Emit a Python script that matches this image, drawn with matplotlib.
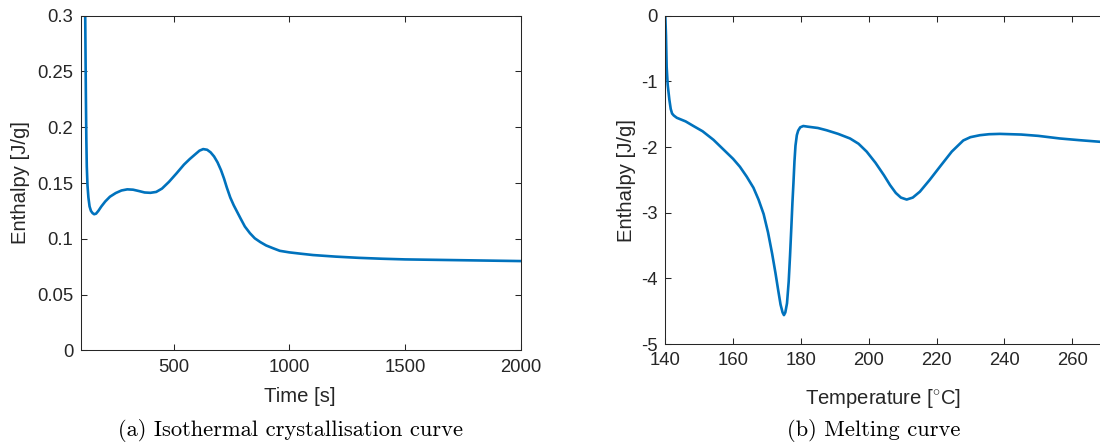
import matplotlib
matplotlib.use("Agg")
import matplotlib.pyplot as plt

# (a) isothermal crystallisation: time [s] vs enthalpy [J/g]
time_s = [113, 117, 119, 121, 123, 125, 128, 132, 137, 143, 150, 157, 165, 175,
          188, 205, 225, 250, 275, 300, 325, 350, 375, 400, 425, 450, 480, 513,
          545, 570, 595, 612, 628, 645, 660, 675, 690, 705, 718, 730, 745, 760,
          775, 790, 808, 830, 851, 875, 900, 930, 959, 1000, 1050, 1103, 1200,
          1300, 1400, 1500, 1600, 1700, 1800, 1900, 2000]
enthalpy_iso = [0.42, 0.33, 0.28, 0.23, 0.19, 0.165, 0.148, 0.137, 0.129, 0.125,
                0.123, 0.122, 0.1225, 0.125, 0.129, 0.1335, 0.1377, 0.141,
                0.1433, 0.1443, 0.1440, 0.1428, 0.1415, 0.1412, 0.1420, 0.1450,
                0.151, 0.1587, 0.1665, 0.1715, 0.176, 0.1790, 0.1804, 0.1798,
                0.1775, 0.1738, 0.1685, 0.1615, 0.1540, 0.1460, 0.1370, 0.1300,
                0.1240, 0.1180, 0.1110, 0.1050, 0.1004, 0.0970, 0.0940, 0.0915,
                0.0892, 0.0878, 0.0866, 0.0854, 0.0840, 0.0829, 0.0821, 0.0815,
                0.0812, 0.0809, 0.0806, 0.0803, 0.0800]

# (b) melting: temperature [deg C] vs enthalpy [J/g]
temp_c = [140.0, 140.2, 140.4, 140.7, 141.2, 141.6, 142.0, 142.5, 143.4, 146,
          148.3, 151, 154.2, 157, 160, 162, 164, 166, 167.5, 169, 170.3, 171.5,
          172.5, 173.3, 174.0, 174.6, 175.0, 175.4, 175.9, 176.4, 176.8, 177.2,
          177.5, 177.8, 178.1, 178.4, 178.8, 179.2, 179.8, 180.7, 182, 185,
          187.6, 191, 194.5, 197, 199.4, 202, 204.5, 206.3, 208, 209.5, 211.2,
          213, 215.1, 218, 221, 224.5, 227.9, 230, 232.8, 235.5, 238.7, 245,
          250, 256.4, 262, 268.2, 270]
enthalpy_melt = [0.0, -0.30, -0.78, -1.05, -1.28, -1.42, -1.49, -1.52, -1.555,
                 -1.61, -1.68, -1.76, -1.89, -2.03, -2.18, -2.30, -2.45, -2.62,
                 -2.80, -3.02, -3.30, -3.62, -3.92, -4.18, -4.40, -4.52, -4.56,
                 -4.52, -4.38, -4.05, -3.65, -3.20, -2.85, -2.55, -2.22, -1.98,
                 -1.82, -1.75, -1.70, -1.68, -1.69, -1.71, -1.745, -1.80, -1.87,
                 -1.95, -2.07, -2.24, -2.43, -2.58, -2.70, -2.77, -2.80, -2.77,
                 -2.68, -2.50, -2.30, -2.07, -1.90, -1.85, -1.82, -1.805, -1.80,
                 -1.81, -1.83, -1.87, -1.895, -1.92, -1.93]

iso_xticks = [500, 1000, 1500, 2000]
iso_yticks = [0, 0.05, 0.1, 0.15, 0.2, 0.25, 0.3]
iso_yticklabels = ["0", "0.05", "0.1", "0.15", "0.2", "0.25", "0.3"]
melt_xticks = [140, 160, 180, 200, 220, 240, 260]
melt_yticks = [-5, -4, -3, -2, -1, 0]

LINE = "#0072BD"
AX = "#262626"
SANS = "Liberation Sans"
SERIF = "cmr10"

plt.rcParams["axes.unicode_minus"] = False
plt.rcParams["mathtext.fontset"] = "custom"
plt.rcParams["mathtext.rm"] = SANS

W, H = 1100, 446
fig = plt.figure(figsize=(W / 100, H / 100), dpi=100)


def px_rect(x0, y0, x1, y1):
    return [x0 / W, 1 - y1 / H, (x1 - x0) / W, (y1 - y0) / H]


def style(ax):
    for s in ax.spines.values():
        s.set_color(AX)
        s.set_linewidth(0.75)
    ax.tick_params(direction="in", length=4, width=0.75, color=AX,
                   labelcolor=AX, labelsize=13.3, top=True, right=True)
    ax.tick_params(axis="y", pad=5.5)
    ax.tick_params(axis="x", pad=6)
    for lab in ax.get_xticklabels() + ax.get_yticklabels():
        lab.set_fontfamily(SANS)


ax1 = fig.add_axes(px_rect(81, 15.7, 520.7, 350.3))
ax1.plot(time_s, enthalpy_iso, color=LINE, lw=1.9, solid_joinstyle="round")
ax1.set_xlim(100, 2000)
ax1.set_ylim(0, 0.3)
ax1.set_xticks(iso_xticks)
ax1.set_yticks(iso_yticks)
ax1.set_yticklabels(iso_yticklabels)
style(ax1)

ax2 = fig.add_axes(px_rect(665.3, 15.7, 1106, 344))
ax2.plot(temp_c, enthalpy_melt, color=LINE, lw=1.9, solid_joinstyle="round")
ax2.set_xlim(140, 270)
ax2.set_ylim(-5, 0)
ax2.set_xticks(melt_xticks)
ax2.set_yticks(melt_yticks)
style(ax2)


def ftext(x, y, s, color=AX, **kw):
    fig.text(x / W, 1 - y / H, s, ha="center", va="center", color=color, **kw)


ftext(21, 183, "Enthalpy [J/g]", rotation=90, fontsize=14.6, family=SANS)
ftext(300, 397, "Time [s]", fontsize=14.6, family=SANS)
ftext(626.5, 180, "Enthalpy [J/g]", rotation=90, fontsize=14.6, family=SANS)
ftext(883, 398, r"Temperature [$^{\circ}$C]", fontsize=14.6, family=SANS)

ftext(290, 431, "(a) Isothermal crystallisation curve", fontsize=16.2,
      family=SERIF, color="black")
ftext(874, 431, "(b) Melting curve", fontsize=16.2, family=SERIF, color="black")

fig.savefig("out.png", dpi=100)
